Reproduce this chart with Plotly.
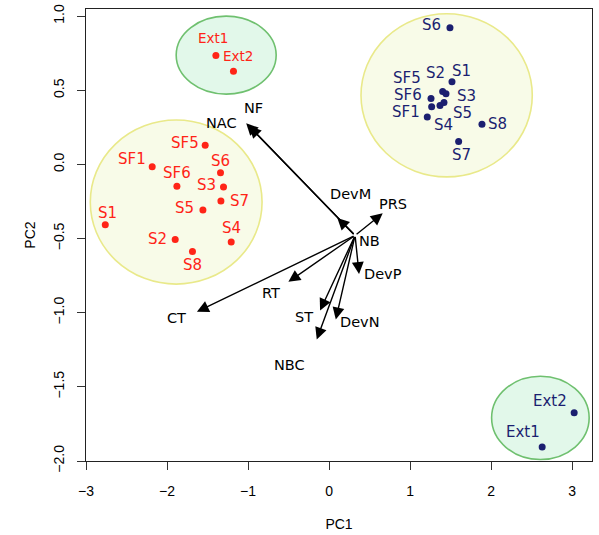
import plotly.graph_objects as go

# ---------------- data ----------------
red_labels = ["SF5", "SF1", "SF6", "S6", "S3", "S7", "S5", "S1", "S2", "S4", "S8"]
red_pc1 = [-1.529, -2.183, -1.878, -1.340, -1.303, -1.335, -1.557, -2.762, -1.899, -1.208, -1.686]
red_pc2 = [0.130, -0.016, -0.148, -0.057, -0.153, -0.247, -0.308, -0.407, -0.506, -0.524, -0.587]

red_ext_labels = ["Ext1", "Ext2"]
red_ext_pc1 = [-1.397, -1.180]
red_ext_pc2 = [0.735, 0.629]

blue_labels = ["S6", "S1", "S2", "S3", "SF5", "SF6", "SF1", "S4", "S5", "S8", "S7"]
blue_pc1 = [1.492, 1.517, 1.402, 1.443, 1.258, 1.266, 1.212, 1.369, 1.418, 1.887, 1.599]
blue_pc2 = [0.921, 0.557, 0.492, 0.476, 0.445, 0.388, 0.319, 0.398, 0.418, 0.270, 0.155]

blue_ext_labels = ["Ext2", "Ext1"]
blue_ext_pc1 = [3.025, 2.630]
blue_ext_pc2 = [-1.675, -1.906]

# variable loadings (arrow tips) and arrow origin
var_names = ["NF", "NAC", "DevM", "PRS", "NB", "DevP", "DevN", "ST", "NBC", "RT", "CT"]
var_pc1 = [-1.023, -0.986, 0.102, 0.662, 0.321, 0.370, 0.083, -0.111, -0.152, -0.502, -1.631]
var_pc2 = [0.278, 0.258, -0.361, -0.330, -0.479, -0.739, -1.045, -0.985, -1.180, -0.792, -0.994]
origin_pc1 = 0.321
origin_pc2 = -0.479

# group ellipses: centre x, centre y, radius x, radius y
ellipse_cx = [-1.887, -1.270, 1.451, 2.608]
ellipse_cy = [-0.254, 0.737, 0.466, -1.709]
ellipse_rx = [1.060, 0.617, 1.057, 0.602]
ellipse_ry = [0.553, 0.263, 0.550, 0.281]

x_ticks = [-3, -2, -1, 0, 1, 2, 3]
x_ticktext = ["\u22123", "\u22122", "\u22121", "0", "1", "2", "3"]
y_ticks = [1.0, 0.5, 0.0, -0.5, -1.0, -1.5, -2.0]
y_ticktext = ["1.0", "0.5", "0.0", "\u22120.5", "\u22121.0", "\u22121.5", "\u22122.0"]

# ---------------- styles ----------------
RED = "#ff2417"
BLUE = "#1b1f70"
ell_fill = ["#f8fbe8", "#e2f8ea", "#f8fbe8", "#e2f8ea"]
ell_line = ["#e9e98a", "#6fc06f", "#e9e98a", "#6fc06f"]

# label pixel offsets (dx right, dy down) relative to the points
red_off = {"SF5": (-20, -2), "SF1": (-20, -8), "SF6": (0, -13), "S6": (0, -12), "S3": (-17, -2),
           "S7": (19, 0), "S5": (-18, -2), "S1": (2, -12), "S2": (-18, 0), "S4": (0, -14), "S8": (0, 14)}
red_ext_off = {"Ext1": (-3, -17), "Ext2": (5, -15)}
blue_off = {"S6": (-18, -3), "S1": (10, -11), "S2": (-7, -18), "S3": (21, 2), "SF5": (-24, -20),
            "SF6": (-24, -12), "SF1": (-21, -5), "S4": (3, 20), "S5": (19, 11), "S8": (16, 0), "S7": (3, 14)}
blue_ext_off = {"Ext2": (-24, -12), "Ext1": (-19, -15)}
var_off = {"NF": (7, -15), "NAC": (-28, -3), "DevM": (13, -24), "PRS": (10, -9), "NB": (14, 6),
           "DevP": (24, 0), "DevN": (24, 3), "ST": (-16, 7), "NBC": (-27, 26), "RT": (-17, 11), "CT": (-20, 6)}

LABEL_FONT = "DejaVu Sans"

fig = go.Figure()

# ellipses
for cx, cy, rx, ry, fc, lc in zip(ellipse_cx, ellipse_cy, ellipse_rx, ellipse_ry, ell_fill, ell_line):
    fig.add_shape(type="circle", xref="x", yref="y", x0=cx - rx, x1=cx + rx, y0=cy - ry, y1=cy + ry,
                  fillcolor=fc, line=dict(color=lc, width=1.6), layer="below")

# points
for xs, ys, col in [(red_pc1, red_pc2, RED), (red_ext_pc1, red_ext_pc2, RED),
                    (blue_pc1, blue_pc2, BLUE), (blue_ext_pc1, blue_ext_pc2, BLUE)]:
    fig.add_trace(go.Scatter(x=xs, y=ys, mode="markers", marker=dict(color=col, size=7),
                             showlegend=False, hoverinfo="skip"))

annotations = []

def add_labels(labels, xs, ys, offs, col, size):
    for lab, x, y in zip(labels, xs, ys):
        dx, dy = offs[lab]
        annotations.append(dict(x=x, y=y, xref="x", yref="y", text=lab, showarrow=False,
                                xshift=dx, yshift=-dy, xanchor="center", yanchor="middle",
                                font=dict(family=LABEL_FONT, size=size, color=col)))

add_labels(red_labels, red_pc1, red_pc2, red_off, RED, 15)
add_labels(red_ext_labels, red_ext_pc1, red_ext_pc2, red_ext_off, RED, 13.5)
add_labels(blue_labels, blue_pc1, blue_pc2, blue_off, BLUE, 15)
add_labels(blue_ext_labels, blue_ext_pc1, blue_ext_pc2, blue_ext_off, BLUE, 15)

# arrows
for name, x, y in zip(var_names, var_pc1, var_pc2):
    if not (abs(x - origin_pc1) < 1e-9 and abs(y - origin_pc2) < 1e-9):
        annotations.append(dict(x=x, y=y, ax=origin_pc1, ay=origin_pc2, xref="x", yref="y",
                                axref="x", ayref="y", text="", showarrow=True,
                                arrowhead=2, arrowsize=1.7, arrowwidth=1.4, arrowcolor="black",
                                standoff=0, startstandoff=0))
add_labels(var_names, var_pc1, var_pc2, var_off, "black", 14.5)

fig.update_layout(
    width=599, height=535, autosize=False,
    margin=dict(l=86, r=7, t=9, b=74, autoexpand=False),
    plot_bgcolor="white", paper_bgcolor="white",
    annotations=annotations,
    showlegend=False,
    font=dict(family="Liberation Sans, Arial", size=14, color="black"),
)
fig.update_xaxes(range=[-3.0, 3.245], tickvals=x_ticks, ticktext=x_ticktext,
                 showgrid=False, zeroline=False, showline=True, mirror=True, automargin=False,
                 linecolor="#222222", linewidth=1, ticks="outside", ticklen=8,
                 tickcolor="#333333", ticklabelstandoff=9,
                 title=dict(text="PC1", standoff=21, font=dict(size=14)))
fig.update_yaxes(range=[-2.0, 1.048], tickvals=y_ticks, ticktext=y_ticktext,
                 showgrid=False, zeroline=False, showline=True, mirror=True, automargin=False,
                 linecolor="#222222", linewidth=1, ticks="outside", ticklen=8,
                 tickcolor="#333333", tickangle=-90, ticklabelstandoff=7,
                 title=dict(text="PC2", standoff=12, font=dict(size=14)))

fig.write_html("out.html", config={"displayModeBar": False},
               post_script="document.body.style.margin='0';document.body.style.padding='0';")
